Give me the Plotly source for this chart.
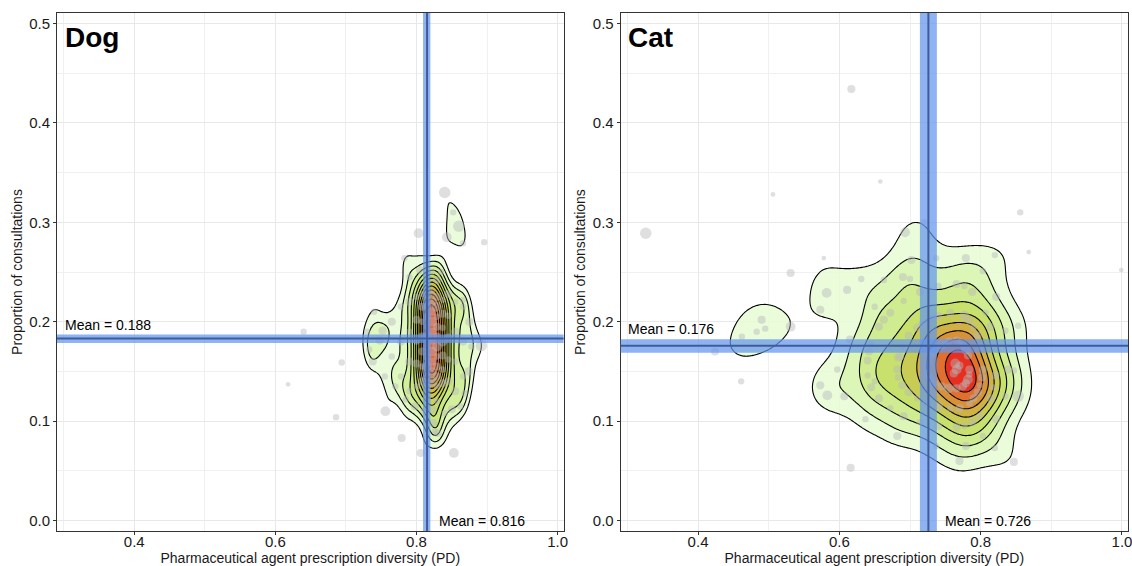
import numpy as np
import plotly.graph_objects as go

# ---------------- data (PD, proportion of consultations, relative size) ----------------
dog_center = [
    (0.815, 0.135, 3), (0.815, 0.145, 2), (0.815, 0.155, 4), (0.815, 0.165, 3), (0.815, 0.175, 3),
    (0.815, 0.185, 4), (0.815, 0.195, 2), (0.815, 0.205, 3), (0.815, 0.215, 3), (0.815, 0.225, 2),
    (0.822, 0.140, 4), (0.822, 0.150, 3), (0.822, 0.160, 3), (0.822, 0.170, 4), (0.822, 0.180, 2),
    (0.822, 0.190, 3), (0.822, 0.200, 4), (0.822, 0.210, 3), (0.822, 0.220, 3), (0.822, 0.230, 2),
    (0.829, 0.135, 2), (0.829, 0.145, 3), (0.829, 0.155, 3), (0.829, 0.165, 2), (0.829, 0.175, 4),
    (0.829, 0.185, 3), (0.829, 0.195, 3), (0.829, 0.205, 2), (0.829, 0.215, 4), (0.829, 0.225, 3),
]
dog_sides = [
    (0.808, 0.140, 3), (0.808, 0.155, 2), (0.808, 0.170, 3), (0.808, 0.185, 3), (0.808, 0.200, 2),
    (0.808, 0.215, 3), (0.808, 0.228, 2), (0.837, 0.138, 3), (0.837, 0.152, 2), (0.837, 0.166, 3),
    (0.837, 0.180, 4), (0.837, 0.194, 2), (0.837, 0.208, 3), (0.837, 0.222, 2), (0.800, 0.135, 2),
    (0.800, 0.158, 3), (0.800, 0.180, 2), (0.800, 0.202, 3), (0.800, 0.225, 2), (0.845, 0.140, 3),
    (0.845, 0.162, 2), (0.845, 0.184, 3), (0.845, 0.206, 2), (0.845, 0.228, 3), (0.790, 0.130, 2),
    (0.790, 0.160, 3), (0.790, 0.190, 2), (0.790, 0.220, 3), (0.855, 0.130, 3), (0.855, 0.160, 2),
    (0.855, 0.190, 3), (0.855, 0.220, 2), (0.778, 0.145, 2), (0.778, 0.180, 3), (0.778, 0.215, 2),
    (0.866, 0.145, 2), (0.866, 0.180, 3), (0.866, 0.215, 2),
]
dog_fringe = [
    (0.815, 0.122, 3), (0.829, 0.120, 2), (0.822, 0.112, 3), (0.815, 0.240, 2), (0.829, 0.242, 3),
    (0.822, 0.250, 2), (0.748, 0.181, 3), (0.752, 0.191, 3), (0.733, 0.172, 2), (0.730, 0.190, 2),
    (0.740, 0.210, 2), (0.738, 0.160, 3), (0.755, 0.145, 2), (0.765, 0.200, 3), (0.765, 0.165, 2),
    (0.770, 0.135, 2), (0.785, 0.122, 2), (0.798, 0.115, 3), (0.810, 0.110, 2), (0.790, 0.245, 2),
    (0.805, 0.252, 3), (0.835, 0.250, 2), (0.875, 0.200, 3), (0.878, 0.175, 2), (0.874, 0.150, 3),
    (0.868, 0.128, 2), (0.862, 0.115, 2), (0.866, 0.222, 2), (0.840, 0.108, 2), (0.850, 0.112, 3),
    (0.824, 0.098, 3), (0.826, 0.090, 2),
]
dog_outliers = [
    (0.618, 0.137, 1), (0.686, 0.104, 2), (0.694, 0.159, 2), (0.756, 0.110, 4), (0.779, 0.083, 3),
    (0.806, 0.068, 3), (0.853, 0.068, 4), (0.892, 0.176, 5), (0.840, 0.330, 5), (0.803, 0.289, 4),
    (0.783, 0.264, 2), (0.896, 0.280, 2), (0.860, 0.296, 5), (0.843, 0.285, 4), (0.852, 0.310, 2),
    (0.866, 0.279, 2), (0.830, 0.088, 3), (0.640, 0.190, 2),
]

cat_core = [
    (0.766, 0.152, 4), (0.762, 0.148, 3), (0.770, 0.156, 3), (0.764, 0.158, 4), (0.784, 0.152, 3),
    (0.782, 0.166, 3), (0.779, 0.172, 4), (0.775, 0.177, 3), (0.771, 0.180, 2), (0.766, 0.181, 3),
    (0.755, 0.180, 3), (0.745, 0.177, 4), (0.736, 0.172, 2), (0.729, 0.166, 3), (0.725, 0.159, 3),
    (0.724, 0.152, 2), (0.725, 0.147, 3), (0.729, 0.142, 3), (0.736, 0.138, 2), (0.745, 0.135, 3),
    (0.755, 0.133, 4), (0.766, 0.133, 3), (0.775, 0.135, 3), (0.779, 0.138, 3), (0.782, 0.142, 4),
    (0.784, 0.147, 2), (0.750, 0.178, 2), (0.732, 0.169, 3),
]
cat_ring1 = [
    (0.803, 0.152, 3), (0.799, 0.175, 3), (0.796, 0.186, 3), (0.790, 0.194, 2), (0.784, 0.201, 3),
    (0.777, 0.206, 4), (0.757, 0.209, 3), (0.740, 0.206, 3), (0.724, 0.201, 2), (0.710, 0.194, 3),
    (0.698, 0.186, 3), (0.689, 0.175, 2), (0.683, 0.164, 3), (0.682, 0.152, 3), (0.683, 0.144, 2),
    (0.689, 0.136, 3), (0.698, 0.129, 3), (0.710, 0.123, 2), (0.724, 0.118, 3), (0.740, 0.115, 4),
    (0.757, 0.113, 2), (0.770, 0.113, 3), (0.784, 0.118, 2), (0.790, 0.123, 3), (0.796, 0.129, 3),
    (0.799, 0.136, 2), (0.802, 0.144, 3), (0.716, 0.198, 2), (0.686, 0.165, 3), (0.732, 0.204, 2),
]
cat_ring2 = [
    (0.818, 0.178, 2), (0.814, 0.195, 3), (0.807, 0.209, 2), (0.788, 0.230, 3), (0.777, 0.236, 2),
    (0.766, 0.238, 3), (0.740, 0.236, 2), (0.714, 0.230, 3), (0.691, 0.221, 2), (0.672, 0.209, 3),
    (0.656, 0.195, 3), (0.645, 0.178, 2), (0.640, 0.161, 3), (0.640, 0.146, 2), (0.645, 0.134, 3),
    (0.656, 0.123, 3), (0.672, 0.113, 2), (0.691, 0.105, 3), (0.714, 0.099, 2), (0.740, 0.095, 3),
    (0.766, 0.094, 3), (0.777, 0.095, 2), (0.788, 0.099, 3), (0.798, 0.105, 2), (0.814, 0.123, 3),
    (0.818, 0.134, 2), (0.821, 0.146, 3), (0.663, 0.202, 3), (0.642, 0.170, 3), (0.650, 0.140, 2),
]
cat_ring3 = [
    (0.839, 0.152, 3), (0.835, 0.191, 2), (0.822, 0.225, 3), (0.803, 0.251, 2), (0.779, 0.264, 3),
    (0.737, 0.264, 2), (0.690, 0.245, 3), (0.650, 0.215, 2), (0.615, 0.182, 3), (0.597, 0.152, 2),
    (0.607, 0.125, 3), (0.637, 0.102, 2), (0.682, 0.085, 3), (0.737, 0.075, 2), (0.779, 0.075, 3),
    (0.803, 0.085, 2), (0.822, 0.102, 3), (0.835, 0.125, 2), (0.853, 0.196, 2), (0.820, 0.267, 2),
    (0.770, 0.060, 3), (0.820, 0.073, 2),
]
cat_outliers = [
    (0.326, 0.289, 5), (0.506, 0.328, 1), (0.531, 0.249, 3), (0.578, 0.264, 1), (0.582, 0.229, 4),
    (0.611, 0.232, 3), (0.573, 0.212, 3), (0.531, 0.195, 4), (0.490, 0.202, 3), (0.495, 0.193, 2),
    (0.483, 0.190, 2), (0.462, 0.185, 2), (0.424, 0.170, 3), (0.631, 0.243, 2), (0.617, 0.434, 3),
    (0.658, 0.341, 1), (0.693, 0.290, 4), (0.720, 0.300, 2), (0.702, 0.262, 3), (0.700, 0.243, 2),
    (0.663, 0.242, 2), (0.856, 0.310, 2), (0.868, 0.270, 1), (0.999, 0.252, 1), (0.461, 0.140, 2),
    (0.616, 0.053, 3), (0.847, 0.059, 3), (0.853, 0.125, 5), (0.847, 0.151, 2), (0.583, 0.126, 4),
    (0.573, 0.136, 3),
]

panel_names = ["Dog", "Cat"]
# mean line positions (x = PD, y = proportion) and 95% CI bands
mean_pd = [0.815, 0.726]
mean_pd_ci = [(0.8093, 0.8197), (0.714, 0.738)]
mean_prop = [0.183, 0.1757]
mean_prop_ci = [(0.1787, 0.1871), (0.1687, 0.1824)]
mean_pd_text = ["Mean = 0.816", "Mean = 0.726"]
mean_prop_text = ["Mean = 0.188", "Mean = 0.176"]

x_ticks = [0.4, 0.6, 0.8, 1.0]
y_ticks = [0.0, 0.1, 0.2, 0.3, 0.4, 0.5]

# ---------------- styling ----------------
kde_bw = [(0.010, 0.015), (0.024, 0.020)]
levels = [(0.13, 0.07, 12), (0.11, 0.099, 9)]
band_colors = [
    ["#e8fcd6", "#dcf7b8", "#d0ef96", "#c8e678", "#c6dc62", "#c8d254", "#cec648",
     "#d4b640", "#daa23a", "#df8a34", "#e3702e", "#e6542a"],
    ["#e6fbd4", "#d8f4b0", "#cceb8a", "#c5de66", "#c9c850", "#d2aa42", "#db8c36",
     "#e2682c", "#e82420"],
]

def hex_rgba(h, a):
    h = h.lstrip("#")
    return "rgba(%d,%d,%d,%.2f)" % (int(h[0:2], 16), int(h[2:4], 16), int(h[4:6], 16), a)

def unzip(groups):
    pts = [p for g in groups for p in g]
    return (np.array([p[0] for p in pts]), np.array([p[1] for p in pts]),
            np.array([p[2] for p in pts]))

def kde2d(xs, ys, gx, gy, hx, hy):
    kx = np.exp(-0.5 * ((gx[:, None] - xs[None, :]) / hx) ** 2)
    ky = np.exp(-0.5 * ((gy[:, None] - ys[None, :]) / hy) ** 2)
    z = ky @ kx.T
    return z / z.max()

XR = [0.2905, 1.0085]
YR = [-0.0105, 0.5105]
gx = np.linspace(0.29, 1.01, 300)
gy = np.linspace(-0.01, 0.51, 300)

panels = [
    unzip([dog_center, dog_sides, dog_fringe, dog_outliers]),
    unzip([cat_core, cat_ring1, cat_ring2, cat_ring3, cat_outliers]),
]

fig = go.Figure()
domains = [[0.0, 0.473], [0.5263, 1.0]]
shapes = []
annotations = []

for i, (px, py, ps) in enumerate(panels):
    xa = "x" if i == 0 else "x2"
    ya = "y" if i == 0 else "y2"
    hx, hy = kde_bw[i]
    z = kde2d(px, py, gx, gy, hx, hy)
    start, size, nc = levels[i]
    cols = band_colors[i]
    cs = [[0.0, "rgba(255,255,255,0)"]]
    for k in range(1, nc + 1):
        cs.append([k / nc, hex_rgba(cols[k - 1], 0.85)])
    cdict = dict(start=start, end=start + (nc - 1) * size, size=size)
    fig.add_trace(go.Contour(
        x=gx, y=gy, z=z, xaxis=xa, yaxis=ya, showscale=False, hoverinfo="skip",
        colorscale=cs, contours=dict(cdict, coloring="fill", showlines=False),
        line=dict(width=0, smoothing=1),
    ))
    fig.add_trace(go.Scatter(
        x=px, y=py, mode="markers", xaxis=xa, yaxis=ya, hoverinfo="skip",
        marker=dict(size=3 + 1.7 * ps, color="rgba(185,185,185,0.65)", line=dict(width=0)),
    ))
    fig.add_trace(go.Contour(
        x=gx, y=gy, z=z, xaxis=xa, yaxis=ya, showscale=False, hoverinfo="skip",
        contours=dict(cdict, coloring="none"),
        line=dict(color="black", width=1.1, smoothing=1),
    ))

    xr, yr = xa, ya
    lo, hi = mean_pd_ci[i]
    shapes.append(dict(type="rect", xref=xr, yref=yr + " domain", x0=lo, x1=hi, y0=0, y1=1,
                       fillcolor="rgba(100,149,237,0.72)", line=dict(width=0), layer="above"))
    lo, hi = mean_prop_ci[i]
    shapes.append(dict(type="rect", xref=xr + " domain", yref=yr, x0=0, x1=1, y0=lo, y1=hi,
                       fillcolor="rgba(100,149,237,0.72)", line=dict(width=0), layer="above"))
    shapes.append(dict(type="line", xref=xr, yref=yr + " domain", x0=mean_pd[i], x1=mean_pd[i],
                       y0=0, y1=1, line=dict(color="#3f5c99", width=2), layer="above"))
    shapes.append(dict(type="line", xref=xr + " domain", yref=yr, x0=0, x1=1, y0=mean_prop[i],
                       y1=mean_prop[i], line=dict(color="#3f5c99", width=2), layer="above"))

    annotations.append(dict(xref=xr, yref=yr, x=0.2985, y=mean_prop_ci[i][1],
                            text=mean_prop_text[i], showarrow=False, xanchor="left",
                            yanchor="bottom", font=dict(size=14, color="black")))
    annotations.append(dict(xref=xr, yref=yr, x=mean_pd_ci[i][1] + 0.009, y=0.0,
                            text=mean_pd_text[i], showarrow=False, xanchor="left",
                            yanchor="middle", font=dict(size=14, color="black")))
    annotations.append(dict(xref=xr, yref=yr, x=0.2985, y=0.486, text="<b>%s</b>" % panel_names[i],
                            showarrow=False, xanchor="left", yanchor="middle",
                            font=dict(size=28, color="black")))

axis_common = dict(
    showgrid=True, gridcolor="#e8e8e8", gridwidth=1, zeroline=False,
    showline=True, linecolor="#333333", linewidth=1, mirror=True,
    ticks="outside", ticklen=3, tickcolor="#333333", tickwidth=1,
    tickfont=dict(size=15, color="#1a1a1a"), automargin=False, ticklabeloverflow="allow",
)
xaxis_common = dict(axis_common, range=XR, tickvals=x_ticks, ticktext=["%.1f" % v for v in x_ticks],
                    ticklabelstandoff=-6,
                    minor=dict(dtick=0.1, tick0=0.3, showgrid=True, gridcolor="#f0f0f0", gridwidth=1),
                    title=dict(text="Pharmaceutical agent prescription diversity (PD)",
                               font=dict(size=14, color="#1a1a1a"), standoff=0))
yaxis_common = dict(axis_common, range=YR, tickvals=y_ticks, ticktext=["%.1f" % v for v in y_ticks],
                    minor=dict(dtick=0.05, tick0=0.0, showgrid=True, gridcolor="#f0f0f0", gridwidth=1),
                    title=dict(text="Proportion of consultations",
                               font=dict(size=14, color="#1a1a1a"), standoff=3))

fig.update_layout(
    width=1132, height=566,
    margin=dict(l=57, r=4, t=13, b=35, autoexpand=False),
    paper_bgcolor="white", plot_bgcolor="white",
    showlegend=False,
    font=dict(family="Liberation Sans, Arial, sans-serif"),
    xaxis=dict(xaxis_common, domain=domains[0], anchor="y"),
    yaxis=dict(yaxis_common, domain=[0, 1], anchor="x"),
    xaxis2=dict(xaxis_common, domain=domains[1], anchor="y2"),
    yaxis2=dict(yaxis_common, domain=[0, 1], anchor="x2"),
    shapes=shapes, annotations=annotations,
)

fig.write_html("out.html", config={"displayModeBar": False},
               post_script="document.body.style.margin='0px';document.body.style.overflow='hidden';")
